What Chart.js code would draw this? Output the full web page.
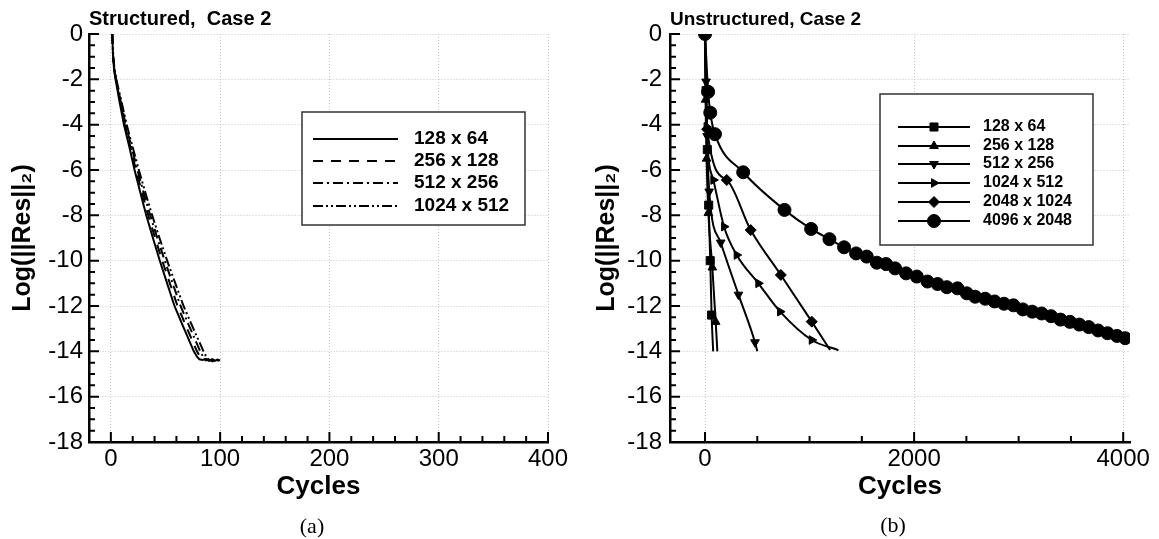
<!DOCTYPE html>
<html>
<head>
<meta charset="utf-8">
<script src="https://cdn.jsdelivr.net/npm/chart.js@4.4.0/dist/chart.umd.min.js"></script>
<style>
  body { margin: 0; background: #fff; }
  #wrap { position: relative; width: 1159px; height: 539px; overflow: hidden; }
  .panel { position: absolute; top: 0; height: 539px; }
  .cap { position: absolute; font-family: "Liberation Serif", serif; font-size: 22px; transform: translate(-50%, -50%); }
</style>
</head>
<body>
<div id="wrap">
  <div class="panel" style="left:0;width:580px"><canvas id="chart-a"></canvas></div>
  <div class="panel" style="left:580px;width:579px"><canvas id="chart-b"></canvas></div>
  <div class="cap" style="left:312px;top:526px">(a)</div>
  <div class="cap" style="left:893px;top:525px">(b)</div>
</div>
<script>
// tick labels
var resTicks = [0, -2, -4, -6, -8, -10, -12, -14, -16, -18];
var cyclesTicksA = [0, 100, 200, 300, 400];
var cyclesTicksB = [0, 2000, 4000];

// (a) structured, case 2
var labelsA = ["128 x 64", "256 x 128", "512 x 256", "1024 x 512"];
var sCyc128 = [1.3, 2, 3, 4.3, 8, 12, 17, 21.7, 27, 32.4, 38.5, 44.8, 51.5, 58.2, 67, 75.9, 79, 81, 84, 87, 90, 93, 95];
var sRes128 = [0, -1, -1.6, -2, -3, -4, -5, -6, -7, -8, -9, -10, -11, -12, -13, -14, -14.25, -14.35, -14.38, -14.33, -14.4, -14.36, -14.4];
var sCyc256 = [1.3, 2, 3.2, 4.6, 8.6, 12.8, 18, 23, 28.6, 34.2, 40.5, 47, 54, 61, 69.8, 78.8, 82, 84, 87, 90, 93, 97];
var sRes256 = [0, -1, -1.6, -2, -3, -4, -5, -6, -7, -8, -9, -10, -11, -12, -13, -14, -14.28, -14.37, -14.35, -14.42, -14.36, -14.4];
var sCyc512 = [1.3, 2.1, 3.3, 4.8, 9.2, 13.6, 19, 24.3, 30, 36, 42.5, 49.3, 56.5, 63.8, 72.7, 81.8, 85, 87, 90, 93, 96, 99];
var sRes512 = [0, -1, -1.6, -2, -3, -4, -5, -6, -7, -8, -9, -10, -11, -12, -13, -14, -14.3, -14.4, -14.36, -14.44, -14.37, -14.42];
var sCyc1024 = [1.3, 2.2, 3.5, 5, 9.8, 14.5, 20, 25.6, 31.6, 37.8, 44.5, 51.5, 59, 66.5, 75.5, 84.8, 88, 90, 92, 95, 97.5, 100];
var sRes1024 = [0, -1, -1.6, -2, -3, -4, -5, -6, -7, -8, -9, -10, -11, -12, -13, -14, -14.3, -14.4, -14.35, -14.42, -14.36, -14.4];

// (b) unstructured, case 2
var labelsB = ["128 x 64", "256 x 128", "512 x 256", "1024 x 512", "2048 x 1024", "4096 x 2048"];
var uCyc128 = [0, 10, 22, 35, 50, 63, 78];
var uRes128 = [0, -2.5, -5.1, -7.55, -10, -12.4, -14];
var uCyc256 = [0, 5, 15, 32, 70, 102, 118];
var uRes256 = [0, -2.9, -5.5, -7.9, -10.3, -12.7, -14];
var uCyc512 = [0, 10, 20, 40, 150, 320, 478, 500];
var uRes512 = [0, -2.1, -4.5, -6.95, -9.2, -11.5, -13.6, -14];
var uCyc1024 = [0, 15, 80, 182, 303, 510, 718, 1021, 1276];
var uRes1024 = [0, -4.1, -6.44, -8.5, -9.75, -11.0, -12.25, -13.5, -13.95];
var uCyc2048 = [0, 20, 208, 437, 725, 1021, 1196];
var uRes2048 = [0, -4.2, -6.44, -8.65, -10.63, -12.69, -13.94];
var uCyc4096 = [0, 30, 50, 95, 365, 760, 1015, 1190, 1330, 1445, 1547, 1643, 1732, 1818, 1923, 2026, 2128, 2224, 2313, 2415, 2504, 2584,
  2680, 2770, 2860, 2950, 3040, 3130, 3220, 3310, 3400, 3490, 3580, 3670, 3760, 3850, 3940, 4019];
var uRes4096 = [0, -2.55, -3.47, -4.42, -6.1, -7.76, -8.6, -9.05, -9.41, -9.68, -9.82, -10.09, -10.15, -10.34, -10.56, -10.7, -10.92, -11.03, -11.17, -11.22, -11.44, -11.59,
  -11.68, -11.8, -11.9, -11.97, -12.15, -12.25, -12.33, -12.45, -12.6, -12.7, -12.82, -12.93, -13.08, -13.2, -13.32, -13.42];

Chart.defaults.font.family = "'Liberation Sans', Arial, sans-serif";
Chart.defaults.color = "#000";

function toPoints(xs, ys) {
  return xs.map(function (x, i) { return { x: x, y: ys[i] }; });
}

// tick marks drawn inside the frame, long at labelled values, short in between
var innerTicks = {
  id: "innerTicks",
  afterDraw: function (chart, args, opts) {
    var ctx = chart.ctx;
    var area = chart.chartArea;
    var xs = chart.scales.x;
    var ys = chart.scales.y;
    ctx.save();
    ctx.strokeStyle = "#000";
    ctx.lineWidth = 2;
    ctx.beginPath();
    for (var v = 0; v <= xs.max + 1e-6; v += opts.xMinor) {
      var px = xs.getPixelForValue(v);
      var len = Math.abs(v % opts.xMajor) < 1e-6 ? 10 : 6;
      ctx.moveTo(px, area.bottom);
      ctx.lineTo(px, area.bottom - len);
    }
    for (var w = ys.min; w <= ys.max + 1e-6; w += 0.5) {
      var py = ys.getPixelForValue(w);
      var l2 = Math.abs(w % 2) < 1e-6 ? 10 : 6;
      ctx.moveTo(area.left, py);
      ctx.lineTo(area.left + l2, py);
    }
    ctx.stroke();
    ctx.restore();
  }
};

// boxed legend placed inside the plot
var boxLegend = {
  id: "boxLegend",
  afterDraw: function (chart, args, o) {
    var ctx = chart.ctx;
    ctx.save();
    ctx.fillStyle = "#fff";
    ctx.fillRect(o.x, o.y, o.w, o.h);
    ctx.strokeStyle = "#333";
    ctx.lineWidth = 1.5;
    ctx.strokeRect(o.x, o.y, o.w, o.h);
    chart.data.datasets.forEach(function (ds, i) {
      var y = o.rows[i];
      ctx.strokeStyle = "#000";
      ctx.fillStyle = "#000";
      ctx.lineWidth = ds.borderWidth;
      ctx.setLineDash(ds.borderDash || []);
      ctx.beginPath();
      ctx.moveTo(o.x1, y);
      ctx.lineTo(o.x2, y);
      ctx.stroke();
      ctx.setLineDash([]);
      if (ds.pointStyle && Chart.helpers && Chart.helpers.drawPoint) {
        ctx.lineWidth = 1;
        Chart.helpers.drawPoint(ctx, {
          pointStyle: ds.pointStyle,
          rotation: ds.pointRotation || 0,
          radius: ds.legendRadius,
          borderWidth: 1
        }, (o.x1 + o.x2) / 2, y);
      }
      ctx.fillStyle = "#000";
      ctx.font = "bold " + o.fontSize + "px 'Liberation Sans', Arial, sans-serif";
      ctx.textBaseline = "middle";
      ctx.textAlign = "left";
      ctx.fillText(ds.label, o.tx, y);
    });
    ctx.restore();
  }
};

function axes(xMin, xMax, xTicks, yWidth, yPad, titleOffset) {
  return {
    x: {
      type: "linear",
      min: xMin,
      max: xMax,
      afterBuildTicks: function (s) { s.ticks = xTicks.map(function (v) { return { value: v }; }); },
      afterFit: function (s) { s.height = 60; },
      grid: { color: "#c8c8c8", lineWidth: 1, drawTicks: false },
      border: { color: "#000", width: 2.5, dash: [1, 2] },
      ticks: { font: { size: 24 }, padding: 3, maxRotation: 0, callback: function (v) { return String(v); } },
      title: { display: true, text: "Cycles", font: { size: 26, weight: "bold" }, padding: { top: 0, bottom: 0 } }
    },
    y: {
      type: "linear",
      min: -18,
      max: 0,
      afterBuildTicks: function (s) { s.ticks = resTicks.map(function (v) { return { value: v }; }); },
      afterFit: function (s) { s.width = yWidth; },
      grid: { color: "#c8c8c8", lineWidth: 1, drawTicks: false },
      border: { color: "#000", width: 2.5, dash: [1, 2] },
      ticks: { font: { size: 24 }, padding: yPad, callback: function (v) { return String(v); } },
      title: { display: true, text: "Log(||Res||\u2082)", font: { size: 25, weight: "bold" }, padding: { top: titleOffset, bottom: 0 } }
    }
  };
}

function titleOpts(text, size) {
  return {
    display: true,
    text: text,
    align: "start",
    fullSize: false,
    font: { size: size, weight: "bold" },
    padding: { top: 34 - size * 1.2 - 3, bottom: 3 }
  };
}

// chart (a)
var dashesA = [[], [10, 8], [10, 4, 2, 4], [10, 3, 2, 3, 2, 3]];
var dataA = [[sCyc128, sRes128], [sCyc256, sRes256], [sCyc512, sRes512], [sCyc1024, sRes1024]];

new Chart(document.getElementById("chart-a"), {
  type: "line",
  data: {
    datasets: dataA.map(function (d, i) {
      return {
        label: labelsA[i],
        data: toPoints(d[0], d[1]),
        borderColor: "#000",
        borderWidth: 2,
        borderDash: dashesA[i],
        pointRadius: 0,
        fill: false
      };
    })
  },
  options: {
    responsive: true,
    maintainAspectRatio: false,
    animation: false,
    layout: { padding: { left: 0, right: 32, top: 0, bottom: 37 } },
    scales: axes(-20, 400, cyclesTicksA, 89, 6, 8),
    plugins: {
      legend: { display: false },
      tooltip: { enabled: false },
      title: titleOpts("Structured,  Case 2", 20),
      innerTicks: { xMinor: 20, xMajor: 100 },
      boxLegend: { x: 302, y: 112, w: 223, h: 113, rows: [139, 161, 183, 206], x1: 313, x2: 398, tx: 414, fontSize: 19 }
    }
  },
  plugins: [innerTicks, boxLegend]
});

// chart (b)
var stylesB = ["rect", "triangle", "triangle", "triangle", "rectRot", "circle"];
var rotB = [0, 0, 180, 90, 0, 0];
var radB = [5.7, 5, 5, 5, 5.5, 6.5];
var endMarkB = [false, false, false, false, false, true];
var dataB = [[uCyc128, uRes128], [uCyc256, uRes256], [uCyc512, uRes512], [uCyc1024, uRes1024], [uCyc2048, uRes2048], [uCyc4096, uRes4096]];

new Chart(document.getElementById("chart-b"), {
  type: "line",
  data: {
    datasets: dataB.map(function (d, i) {
      var n = d[0].length;
      return {
        label: labelsB[i],
        data: toPoints(d[0], d[1]),
        borderColor: "#000",
        backgroundColor: "#000",
        borderWidth: 2,
        cubicInterpolationMode: "monotone",
        pointStyle: stylesB[i],
        pointRotation: rotB[i],
        legendRadius: radB[i],
        pointRadius: function (c) { return (c.dataIndex === n - 1 && !endMarkB[i]) ? 0 : radB[i]; },
        pointBackgroundColor: "#000",
        pointBorderColor: "#000",
        pointBorderWidth: 1,
        fill: false
      };
    })
  },
  options: {
    responsive: true,
    maintainAspectRatio: false,
    animation: false,
    layout: { padding: { left: 0, right: 29, top: 0, bottom: 37 } },
    scales: axes(-335, 4065, cyclesTicksB, 90, 8, 12),
    plugins: {
      legend: { display: false },
      tooltip: { enabled: false },
      title: titleOpts("Unstructured, Case 2", 19),
      innerTicks: { xMinor: 500, xMajor: 2000 },
      boxLegend: { x: 300, y: 94, w: 213, h: 151, rows: [127, 146, 164, 183, 202, 221], x1: 318, x2: 390, tx: 403, fontSize: 16 }
    }
  },
  plugins: [innerTicks, boxLegend]
});
</script>
</body>
</html>
